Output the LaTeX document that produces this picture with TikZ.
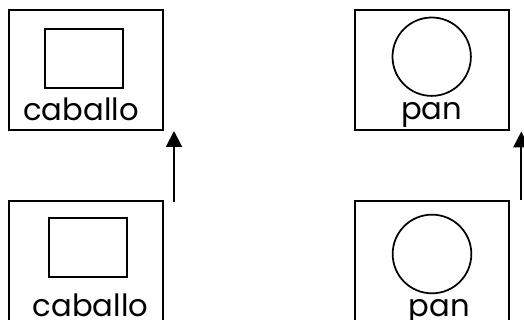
\documentclass[tikz,border=0pt]{standalone}
\usepackage{fontspec}
\usepackage{tikz}
\usetikzlibrary{arrows.meta}

\newfontfamily\wordfamily{Poppins}
\newcommand{\wordfont}{\wordfamily\fontsize{23}{23}\selectfont}

\begin{document}
\begin{tikzpicture}[x=0.75pt, y=-0.75pt,
		card/.style={draw, line width=1.5pt, minimum width=115.5pt, minimum height=90pt, inner sep=0pt},
		pic/.style={draw, line width=1.3pt, inner sep=0pt},
		word/.style={font=\wordfont, anchor=base, inner sep=0pt},
		up/.style={line width=1.5pt, -{Triangle[length=12pt, width=12pt]}}]
		
		\useasboundingbox (0,0) rectangle (524,320);
		
		% caballo
		\node[card] (cabTop) at (86.4,70) {};
		\node[card, minimum height=93.75pt] (cabBot) at (86.4,264) {};
		\node[pic, rectangle, minimum width=58.5pt, minimum height=44.25pt] (rectTop) at (84.2,58.8) {};
		\node[pic, rectangle, minimum width=58pt, minimum height=44.25pt] (rectBot) at (88,247.2) {};
		\node[word] (cabTopText) at (81,120.7) {caballo};
		\node[word] (cabBotText) at (90.5,316) {caballo};
		
		% pan
		\node[card] (panTop) at (431.5,70.5) {};
		\node[card, minimum height=93.75pt] (panBot) at (431.7,264) {};
		\node[pic, circle, minimum size=58.8pt] (circTop) at (431.7,56.7) {};
		\node[pic, circle, minimum size=59pt] (circBot) at (432,254) {};
		\node[word] (panTopText) at (431.7,120) {pan};
		\node[word] (panBotText) at (439.3,316) {pan};
		
		\coordinate (arrL) at (174,202.5);
		\coordinate (arrR) at (521.3,200.5);
		\draw[up] (arrL) -- (arrL |- cabTop.south);
		\draw[up] (arrR) -- (arrR |- panTop.south);
		
	\end{tikzpicture}
\end{document}
